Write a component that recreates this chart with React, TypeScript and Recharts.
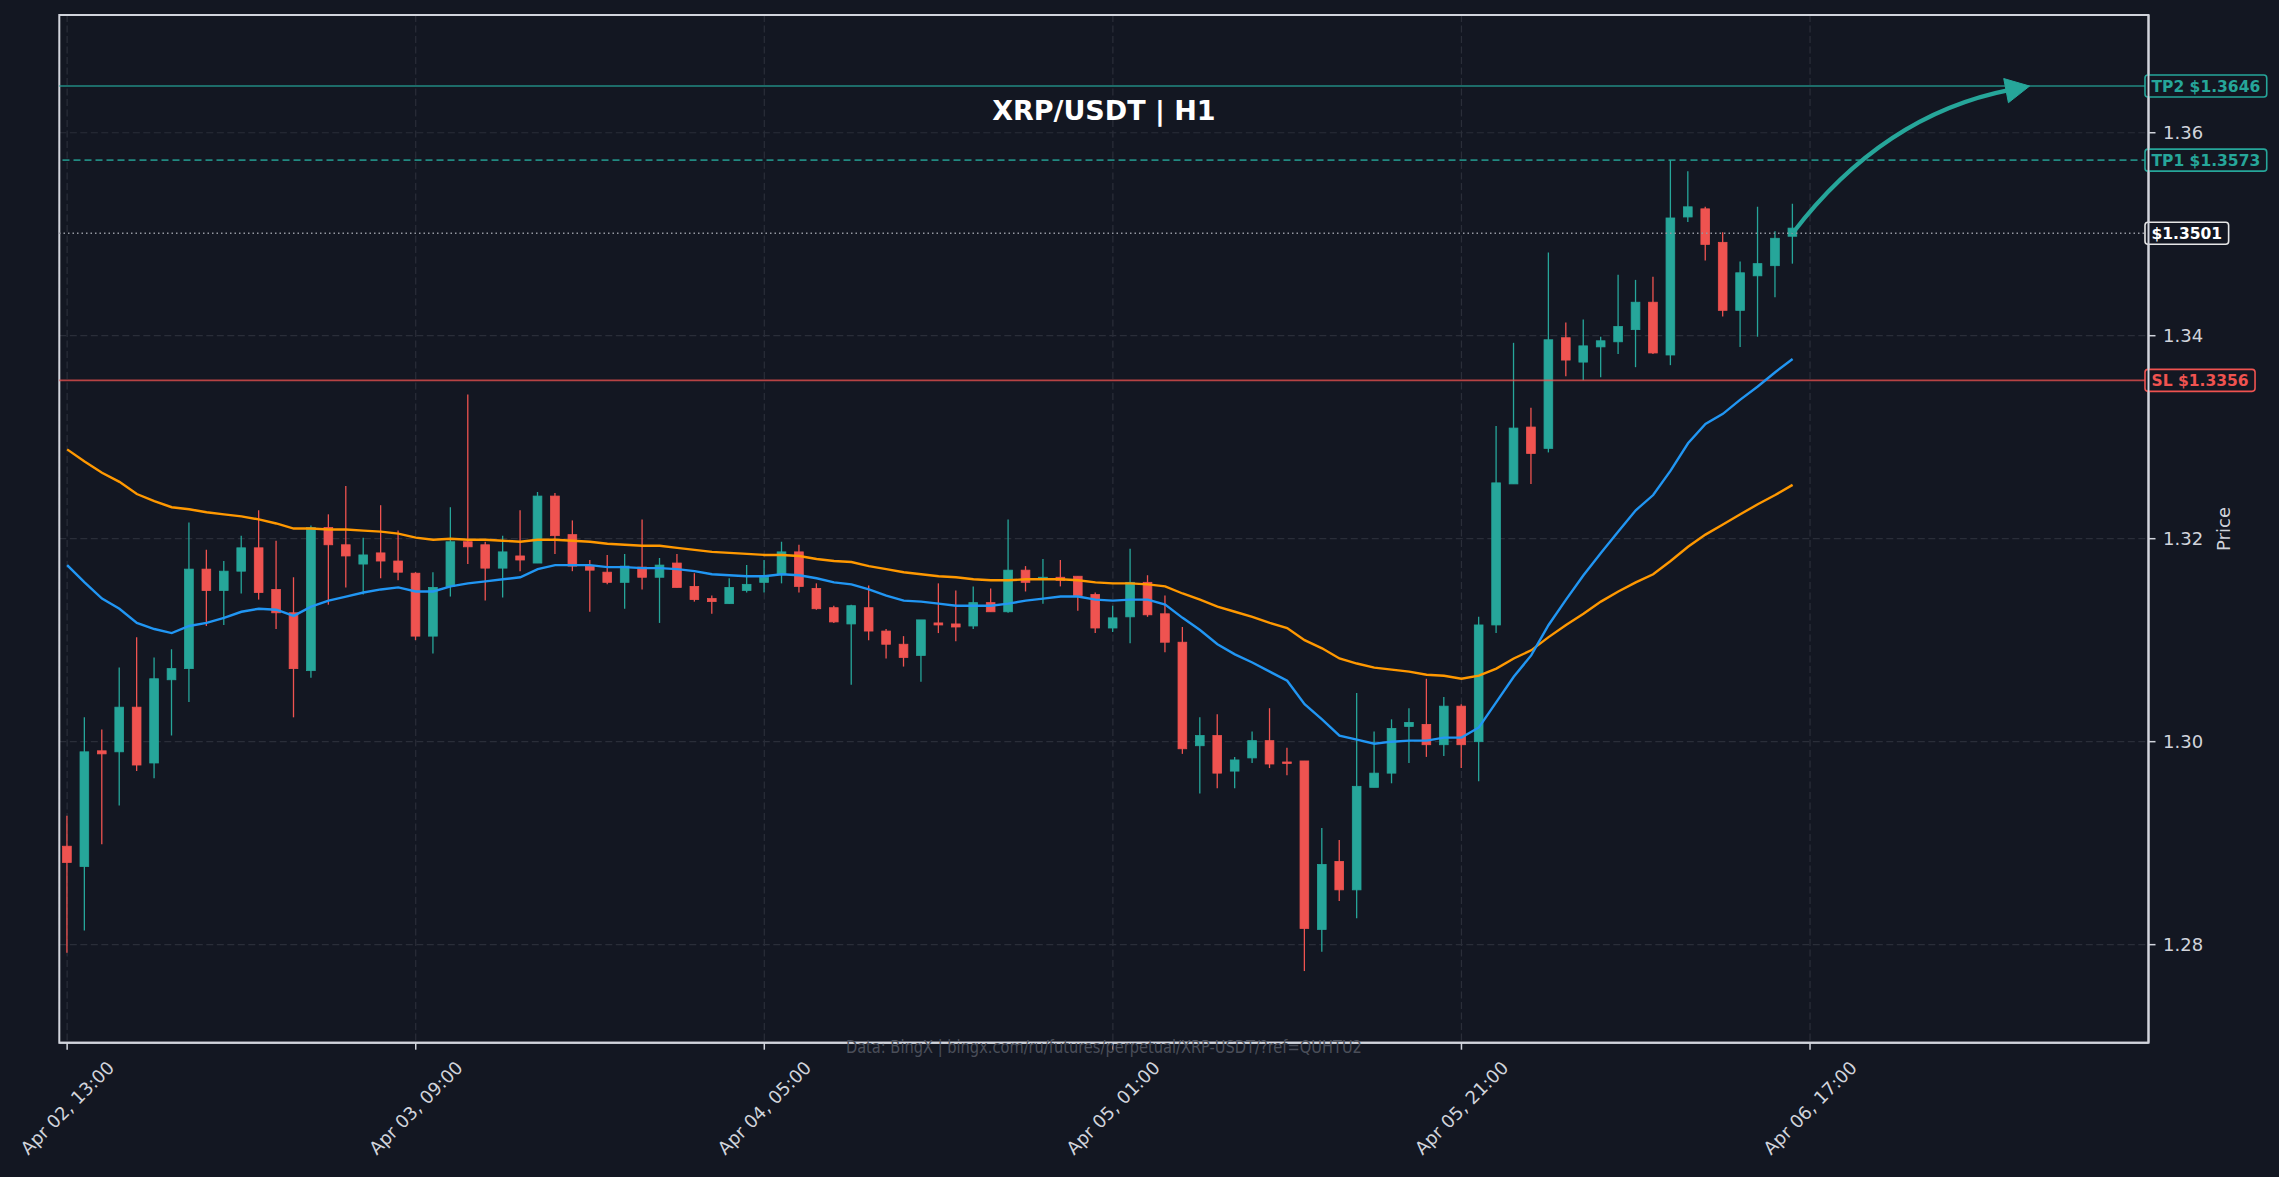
import React from 'react';
import {
  ComposedChart,
  Bar,
  Line,
  XAxis,
  YAxis,
  CartesianGrid,
  ReferenceLine,
  ReferenceArea,
} from 'recharts';

// ---------- data ----------
const OPEN = [
  1.2897, 1.2877, 1.2991, 1.299, 1.3034, 1.2979, 1.3061, 1.3072, 1.317, 1.3149,
  1.3168, 1.3191, 1.315, 1.3127, 1.307, 1.3211, 1.3194, 1.3175, 1.3186, 1.3178,
  1.3166, 1.3104, 1.3153, 1.3197, 1.3194, 1.3171, 1.3183, 1.3176, 1.3242, 1.3204,
  1.3173, 1.3167, 1.3157, 1.3172, 1.3162, 1.3176, 1.3153, 1.3141, 1.3136, 1.3149,
  1.3157, 1.3165, 1.3187, 1.3151, 1.3132, 1.3116, 1.3132, 1.3109, 1.3096, 1.3085,
  1.3117, 1.3116, 1.3114, 1.3137, 1.3128, 1.3169, 1.316, 1.3162, 1.3163, 1.3145,
  1.3112, 1.3123, 1.3157, 1.3126, 1.3098, 1.2996, 1.3006, 1.2971, 1.2984, 1.3001,
  1.298, 1.2981, 1.2815, 1.2882, 1.2854, 1.2955, 1.2969, 1.3015, 1.3017, 1.2997,
  1.3035, 1.3, 1.3115, 1.3254, 1.331, 1.3289, 1.3398, 1.3374, 1.3389, 1.3394,
  1.3406, 1.3433, 1.3381, 1.3517, 1.3525, 1.3492, 1.3425, 1.3459, 1.3469, 1.3498,
];
const HIGH = [
  1.2927, 1.3024, 1.3012, 1.3073, 1.3103, 1.3083, 1.3091, 1.3216, 1.3189, 1.3178,
  1.3203, 1.3228, 1.3198, 1.3162, 1.3213, 1.3224, 1.3252, 1.3201, 1.3233, 1.3208,
  1.3167, 1.3167, 1.3231, 1.3342, 1.3197, 1.3203, 1.3228, 1.3246, 1.3245, 1.3218,
  1.3179, 1.3184, 1.3185, 1.3219, 1.3181, 1.3185, 1.3166, 1.3144, 1.3161, 1.3174,
  1.3179, 1.3197, 1.3194, 1.3156, 1.3134, 1.3135, 1.3154, 1.3111, 1.3104, 1.312,
  1.3156, 1.3149, 1.3153, 1.3151, 1.3219, 1.3173, 1.318, 1.3179, 1.3163, 1.3147,
  1.3134, 1.319, 1.3164, 1.3144, 1.3113, 1.3024, 1.3027, 1.2985, 1.301, 1.3033,
  1.2994, 1.2981, 1.2915, 1.2903, 1.3048, 1.301, 1.3022, 1.3033, 1.3062, 1.3044,
  1.3037, 1.3123, 1.3311, 1.3393, 1.3329, 1.3482, 1.3413, 1.3416, 1.3399, 1.346,
  1.3455, 1.3458, 1.3573, 1.3562, 1.3527, 1.3502, 1.3473, 1.3527, 1.3503, 1.353,
];
const LOW = [
  1.2792, 1.2814, 1.2899, 1.2937, 1.2971, 1.2964, 1.3006, 1.3039, 1.3114, 1.3115,
  1.3146, 1.314, 1.3111, 1.3024, 1.3063, 1.3135, 1.3152, 1.3145, 1.3161, 1.3159,
  1.31, 1.3087, 1.3143, 1.3175, 1.3139, 1.3142, 1.3168, 1.3176, 1.3185, 1.3168,
  1.3128, 1.3155, 1.3131, 1.315, 1.3117, 1.3152, 1.3138, 1.3126, 1.3136, 1.3147,
  1.3147, 1.3156, 1.3147, 1.313, 1.3117, 1.3056, 1.31, 1.3082, 1.3074, 1.3059,
  1.3107, 1.3099, 1.3111, 1.3128, 1.3127, 1.3148, 1.3136, 1.3153, 1.3129, 1.3107,
  1.3108, 1.3097, 1.3123, 1.3088, 1.2988, 1.2949, 1.2954, 1.2954, 1.2979, 1.2974,
  1.2967, 1.2774, 1.2793, 1.2843, 1.2826, 1.2955, 1.2959, 1.2979, 1.2985, 1.2986,
  1.2974, 1.2961, 1.3107, 1.3254, 1.3254, 1.3285, 1.336, 1.3356, 1.3359, 1.3382,
  1.3369, 1.3382, 1.3371, 1.3512, 1.3474, 1.3419, 1.3389, 1.3399, 1.3438, 1.3471,
];
const CLOSE = [
  1.2881, 1.299, 1.2988, 1.3034, 1.2977, 1.3062, 1.3072, 1.317, 1.3149, 1.3168,
  1.3191, 1.3147, 1.3127, 1.3072, 1.3211, 1.3194, 1.3183, 1.3184, 1.3178, 1.3167,
  1.3104, 1.3152, 1.3197, 1.3192, 1.3171, 1.3187, 1.3179, 1.3242, 1.3203, 1.3173,
  1.3169, 1.3157, 1.3173, 1.3162, 1.3174, 1.3152, 1.314, 1.3138, 1.3152, 1.3155,
  1.3162, 1.3187, 1.3153, 1.3131, 1.3118, 1.3134, 1.3109, 1.3096, 1.3083, 1.312,
  1.3115, 1.3113, 1.3137, 1.3128, 1.3169, 1.3157, 1.3162, 1.3159, 1.3144, 1.3112,
  1.3122, 1.3157, 1.3125, 1.3098, 1.2993, 1.3006, 1.2969, 1.2982, 1.3001, 1.2978,
  1.2979, 1.2816, 1.2879, 1.2854, 1.2956, 1.2969, 1.3013, 1.3019, 1.2997, 1.3035,
  1.2997, 1.3115, 1.3255, 1.3309, 1.3284, 1.3396, 1.3376, 1.339, 1.3395, 1.3409,
  1.3433, 1.3383, 1.3516, 1.3527, 1.349, 1.3425, 1.3462, 1.3471, 1.3496, 1.3506,
];
const MA_FAST = [
  1.3174, 1.3157, 1.3141, 1.3131, 1.3117, 1.3111, 1.3107, 1.3114, 1.3117, 1.3122,
  1.3128, 1.3131, 1.313, 1.3124, 1.3133, 1.3139, 1.3143, 1.3147, 1.315, 1.3152,
  1.3148, 1.3148, 1.3153, 1.3156, 1.3158, 1.316, 1.3162, 1.317, 1.3174, 1.3174,
  1.3174, 1.3172, 1.3172, 1.3171, 1.3171, 1.317, 1.3168, 1.3165, 1.3164, 1.3163,
  1.3163, 1.3165, 1.3164, 1.3161, 1.3157, 1.3155, 1.315, 1.3144, 1.3139, 1.3138,
  1.3136, 1.3134, 1.3134, 1.3134, 1.3136, 1.3139, 1.3141, 1.3143, 1.3143, 1.314,
  1.3139, 1.314, 1.314, 1.3135, 1.3122, 1.311, 1.3096, 1.3086, 1.3078, 1.3069,
  1.306, 1.3037, 1.3022, 1.3006, 1.3002, 1.2998, 1.3, 1.3001, 1.3001, 1.3004,
  1.3004, 1.3014, 1.3039, 1.3064, 1.3085, 1.3115, 1.314, 1.3164, 1.3186, 1.3207,
  1.3228, 1.3243, 1.3267, 1.3294, 1.3313, 1.3323, 1.3337, 1.335, 1.3364, 1.3377,
];
const MA_SLOW = [
  1.3288, 1.3276, 1.3265, 1.3256, 1.3244, 1.3237, 1.3231, 1.3229, 1.3226, 1.3224,
  1.3222, 1.3219, 1.3215, 1.321, 1.321, 1.3209, 1.3209, 1.3208, 1.3207, 1.3205,
  1.3201, 1.3199, 1.32, 1.3199, 1.3199, 1.3198, 1.3197, 1.3199, 1.3199, 1.3198,
  1.3197, 1.3195, 1.3194, 1.3193, 1.3193, 1.3191, 1.3189, 1.3187, 1.3186, 1.3185,
  1.3184, 1.3184, 1.3183, 1.318, 1.3178, 1.3177, 1.3173, 1.317, 1.3167, 1.3165,
  1.3163, 1.3162, 1.316, 1.3159, 1.3159, 1.316, 1.316, 1.316, 1.3159, 1.3157,
  1.3156, 1.3156, 1.3155, 1.3153, 1.3146, 1.314, 1.3133, 1.3128, 1.3123, 1.3117,
  1.3112, 1.31, 1.3092, 1.3082, 1.3077, 1.3073, 1.3071, 1.3069, 1.3066, 1.3065,
  1.3062, 1.3065, 1.3072, 1.3082, 1.309, 1.3103, 1.3115, 1.3126, 1.3138, 1.3148,
  1.3157, 1.3165, 1.3178, 1.3192, 1.3204, 1.3214, 1.3224, 1.3234, 1.3243, 1.3253,
];

const X_TICKS = [0, 20, 40, 60, 80, 100];
const X_TICK_LABELS = [
  'Apr 02, 13:00',
  'Apr 03, 09:00',
  'Apr 04, 05:00',
  'Apr 05, 01:00',
  'Apr 05, 21:00',
  'Apr 06, 17:00',
];
const Y_TICKS = [1.28, 1.3, 1.32, 1.34, 1.36];
const X_DOMAIN = [-0.45, 119.42];
const Y_DOMAIN = [1.27034, 1.3716];

const TP2 = 1.3646;
const TP1 = 1.3573;
const SL = 1.3356;
const CURRENT = 1.3501;
const ARROW_X = [99, 112.6];

const TITLE = 'XRP/USDT | H1';
const Y_LABEL = 'Price';
const WATERMARK = 'Data: BingX | bingx.com/ru/futures/perpetual/XRP-USDT/?ref=QUHTU2';

// ---------- style ----------
const BG = '#131722';
const GREEN = '#26a69a';
const RED = '#ef5350';
const BLUE = '#2196f3';
const ORANGE = '#ff9800';
const FG = '#d1d4dc';
const GRID = '#2a2e39';
const W = 2279;
const H = 1177;
const FONT = '"DejaVu Sans", sans-serif';

const data = OPEN.map((o, i) => ({
  t: i,
  range: [LOW[i], HIGH[i]],
  open: o,
  high: HIGH[i],
  low: LOW[i],
  close: CLOSE[i],
  maFast: MA_FAST[i],
  maSlow: MA_SLOW[i],
}));

const Candle = (props: any) => {
  const { x, y, width, height, payload } = props;
  if (x == null || y == null || payload == null) return null;
  const { open, close, high, low } = payload;
  const top = Math.min(y, y + height);
  const bot = Math.max(y, y + height);
  const span = high - low;
  const pix = (v: number) => (span > 0 ? top + ((high - v) / span) * (bot - top) : top);
  const cx = x + width / 2;
  const color = close >= open ? GREEN : RED;
  const bTop = pix(Math.max(open, close));
  const bBot = pix(Math.min(open, close));
  const bw = 8.7;
  return (
    <g>
      <line x1={cx} x2={cx} y1={top} y2={bot} stroke={color} strokeWidth={1.3} />
      <rect
        x={cx - bw / 2}
        y={bTop}
        width={bw}
        height={Math.max(bBot - bTop, 1.5)}
        fill={color}
        stroke={color}
        strokeWidth={0.8}
      />
    </g>
  );
};

const BOLD_W: Record<string, number> = {
  '0': 0.696, '1': 0.696, '2': 0.696, '3': 0.696, '4': 0.696, '5': 0.696,
  '6': 0.696, '7': 0.696, '8': 0.696, '9': 0.696, $: 0.696, '.': 0.38, ' ': 0.348,
  T: 0.682, P: 0.733, S: 0.72, L: 0.637,
};
const boldWidth = (s: string, fs: number) =>
  s.split('').reduce((a, c) => a + (BOLD_W[c] ?? 0.7), 0) * fs;

const PriceTag = (props: any) => {
  const { viewBox, text, color, textColor } = props;
  if (!viewBox) return null;
  const xr = viewBox.x + viewBox.width;
  const yc = viewBox.y + (viewBox.height || 0) / 2;
  const fs = 15.5;
  const w = boldWidth(text, fs) + 13;
  return (
    <g>
      <rect x={xr - 3.5} y={yc - 11} width={w} height={22} rx={3} ry={3} fill={BG} stroke={color} strokeWidth={1.6} />
      <text
        x={xr - 3.5 + 6.5}
        y={yc + 0.5}
        dominantBaseline="central"
        fill={textColor}
        fontWeight="bold"
        fontSize={fs}
        fontFamily={FONT}
      >
        {text}
      </text>
    </g>
  );
};

const CurvedArrow = (props: any) => {
  const { x1, y1, x2, y2 } = props;
  if ([x1, y1, x2, y2].some((v) => v == null || isNaN(v))) return null;
  const dx = x2 - x1;
  const dy = y2 - y1;
  const f = 0.19;
  const cxp = (x1 + x2) / 2 + f * dy;
  const cyp = (y1 + y2) / 2 - f * dx;
  let tx = x2 - cxp;
  let ty = y2 - cyp;
  const tl = Math.hypot(tx, ty) || 1;
  tx /= tl;
  ty /= tl;
  const hl = 24;
  const hw = 12.3;
  const bx = x2 - tx * hl;
  const by = y2 - ty * hl;
  const nx = -ty;
  const ny = tx;
  return (
    <g>
      <path d={`M${x1},${y1} Q${cxp},${cyp} ${bx + tx * 4},${by + ty * 4}`} fill="none" stroke={GREEN} strokeWidth={4.2} />
      <polygon
        points={`${x2},${y2} ${bx + nx * hw},${by + ny * hw} ${bx - nx * hw},${by - ny * hw}`}
        fill={GREEN}
        stroke={GREEN}
        strokeWidth={1}
        strokeLinejoin="round"
      />
    </g>
  );
};

const XTick = (props: any) => {
  const { x, y, payload } = props;
  const idx = X_TICKS.indexOf(payload.value);
  const label = idx >= 0 ? X_TICK_LABELS[idx] : '';
  return (
    <text
      transform={`translate(${x},${y + 56}) rotate(-45)`}
      textAnchor="middle"
      dominantBaseline="central"
      fontSize={18}
      fill={FG}
      fontFamily={FONT}
    >
      {label}
    </text>
  );
};

export default function App() {
  return (
    <div style={{ position: 'absolute', left: 0, top: 0, width: W, height: H, background: BG, overflow: 'hidden' }}>
      <ComposedChart
        width={W}
        height={H}
        data={data}
        margin={{ top: 15, right: 0, bottom: 0, left: 59.3 }}
      >
        <CartesianGrid stroke={GRID} strokeDasharray="7 3.5" strokeWidth={1.2} />
        <XAxis
          dataKey="t"
          type="number"
          domain={X_DOMAIN}
          allowDataOverflow
          ticks={X_TICKS}
          interval={0}
          height={134.3}
          tickSize={7}
          tickMargin={2}
          tick={<XTick />}
          axisLine={{ stroke: FG, strokeWidth: 2 }}
          tickLine={{ stroke: FG, strokeWidth: 1.5 }}
        />
        <YAxis
          orientation="right"
          type="number"
          domain={Y_DOMAIN}
          allowDataOverflow
          ticks={Y_TICKS}
          interval={0}
          width={130.5}
          tickSize={7}
          tickMargin={7.5}
          tickFormatter={(v: number) => v.toFixed(2)}
          tick={{ fill: FG, fontSize: 18, fontFamily: FONT }}
          axisLine={{ stroke: FG, strokeWidth: 2 }}
          tickLine={{ stroke: FG, strokeWidth: 1.5 }}
        />
        <ReferenceLine
          y={TP2}
          stroke={GREEN}
          strokeOpacity={0.8}
          strokeWidth={1.6}
          label={(p: any) => <PriceTag viewBox={p.viewBox} text={`TP2 $${TP2.toFixed(4)}`} color={GREEN} textColor={GREEN} />}
        />
        <ReferenceLine
          y={TP1}
          stroke={GREEN}
          strokeOpacity={0.8}
          strokeWidth={1.6}
          strokeDasharray="7 4"
          label={(p: any) => <PriceTag viewBox={p.viewBox} text={`TP1 $${TP1.toFixed(4)}`} color={GREEN} textColor={GREEN} />}
        />
        <ReferenceLine
          y={CURRENT}
          stroke="#9598a1"
          strokeWidth={1.4}
          strokeDasharray="1.5 3"
          label={(p: any) => <PriceTag viewBox={p.viewBox} text={`$${CURRENT.toFixed(4)}`} color="#e6e6e6" textColor="#ffffff" />}
        />
        <ReferenceLine
          y={SL}
          stroke={RED}
          strokeOpacity={0.75}
          strokeWidth={1.6}
          label={(p: any) => <PriceTag viewBox={p.viewBox} text={`SL $${SL.toFixed(4)}`} color={RED} textColor={RED} />}
        />
        <Bar dataKey="range" barSize={9} shape={(p: any) => <Candle {...p} />} isAnimationActive={false} />
        <Line type="linear" dataKey="maSlow" stroke={ORANGE} strokeWidth={2.4} dot={false} activeDot={false} isAnimationActive={false} />
        <Line type="linear" dataKey="maFast" stroke={BLUE} strokeWidth={2.4} dot={false} activeDot={false} isAnimationActive={false} />
        <ReferenceLine
          segment={[
            { x: ARROW_X[0], y: CURRENT },
            { x: ARROW_X[1], y: TP2 },
          ]}
          ifOverflow="visible"
          shape={(p: any) => <CurvedArrow {...p} />}
        />
        <ReferenceArea
          x1={X_DOMAIN[0]}
          x2={X_DOMAIN[1]}
          y1={Y_DOMAIN[0]}
          y2={Y_DOMAIN[1]}
          fill="none"
          fillOpacity={0}
          stroke={FG}
          strokeWidth={2}
          ifOverflow="visible"
        />
      </ComposedChart>
      <svg width={W} height={H} style={{ position: 'absolute', left: 0, top: 0, pointerEvents: 'none' }}>
        <text
          x={1103.9}
          y={110.5}
          textAnchor="middle"
          dominantBaseline="central"
          fontSize={27}
          fontWeight="bold"
          fill="#ffffff"
          fontFamily={FONT}
        >
          {TITLE}
        </text>
        <text
          transform="translate(2223,529) rotate(-90)"
          textAnchor="middle"
          dominantBaseline="central"
          fontSize={18}
          fill={FG}
          fontFamily={FONT}
        >
          {Y_LABEL}
        </text>
        <text
          x={1103.9}
          y={1052.5}
          textAnchor="middle"
          fontSize={17}
          fill="#4a4e59"
          fontFamily='"DejaVu Sans Condensed", "DejaVu Sans", sans-serif'
          textLength={516}
          lengthAdjust="spacingAndGlyphs"
        >
          {WATERMARK}
        </text>
      </svg>
    </div>
  );
}
